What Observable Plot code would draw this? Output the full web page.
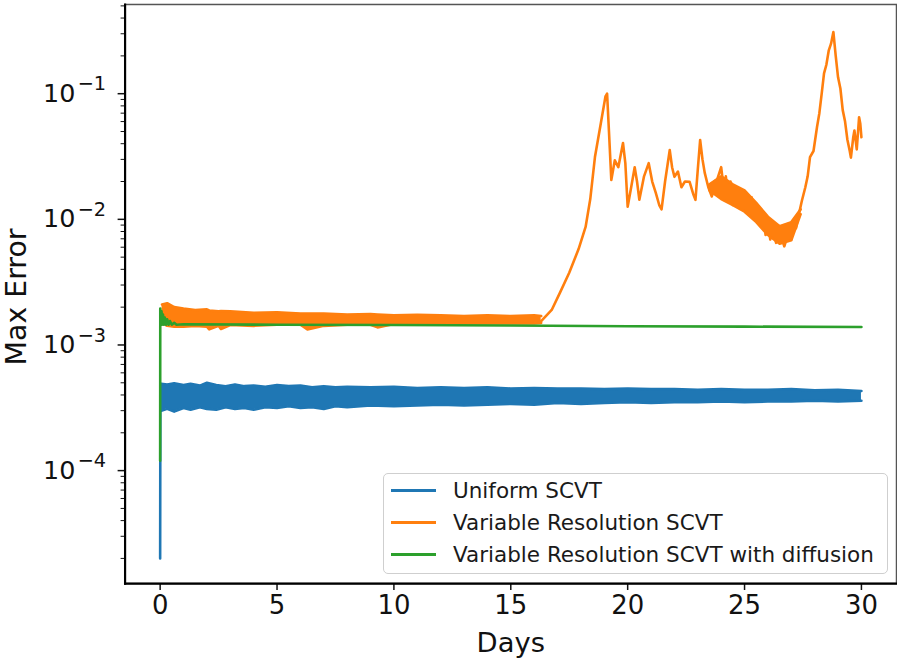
<!DOCTYPE html>
<html><head><meta charset="utf-8">
<script src="https://cdn.jsdelivr.net/npm/d3@7"></script>
<script src="https://cdn.jsdelivr.net/npm/@observablehq/plot@0.6"></script>
<style>
html,body{margin:0;padding:0;background:#fff;overflow:hidden;}
#wrap{position:relative;width:897px;height:663px;overflow:hidden;}
#legend{position:absolute;left:383px;top:473px;width:503px;height:99px;border:1px solid #cfcfcf;border-radius:5px;background:rgba(255,255,255,0.85);font-family:"DejaVu Sans",sans-serif;font-size:21.5px;color:#1a1a1a;}
.row{position:absolute;left:0;height:30px;width:100%;}
.row .sw{position:absolute;left:7px;top:13px;width:45px;height:0;border-top:3px solid;}
.row span{position:absolute;left:69px;top:0;line-height:30px;white-space:nowrap;}
</style></head><body><div id="wrap"><div id="legend"></div></div>
<script>
// ---------- data ----------
const seriesNames = ["Uniform SCVT", "Variable Resolution SCVT", "Variable Resolution SCVT with diffusion"];
const xTicks = [0, 5, 10, 15, 20, 25, 30];
const yTicks = [1e-4, 1e-3, 1e-2, 1e-1];
const minorMantissas = [2, 3, 4, 5, 6, 7, 8, 9];
const minorExponents = [-5, -4, -3, -2, -1];

// Uniform SCVT: initial jump, then noisy band (low / high envelope)
const uniformStartDays = [0, 0.01, 0.04];
const uniformStartVals = [2.0e-5, 4.6e-4, 3.2e-4];
const uniformBandDays = [0.05, 0.3, 0.6, 1, 1.3, 1.7, 2, 2.4, 2.8, 3.2, 3.6, 4, 4.5, 5, 5.5, 6, 6.5, 7, 7.5, 8, 9, 10, 11, 12, 13, 14, 15, 16, 17, 18, 19, 20, 21, 22, 23, 24, 25, 26, 27, 28, 29, 30];
const uniformHigh = [4.9e-4, 4.85e-4, 4.95e-4, 4.8e-4, 4.9e-4, 4.75e-4, 5.0e-4, 4.8e-4, 4.7e-4, 4.85e-4, 4.7e-4, 4.75e-4, 4.65e-4, 4.8e-4, 4.7e-4, 4.75e-4, 4.6e-4, 4.7e-4, 4.6e-4, 4.65e-4, 4.6e-4, 4.65e-4, 4.55e-4, 4.6e-4, 4.55e-4, 4.6e-4, 4.5e-4, 4.55e-4, 4.5e-4, 4.5e-4, 4.45e-4, 4.5e-4, 4.45e-4, 4.45e-4, 4.4e-4, 4.45e-4, 4.4e-4, 4.4e-4, 4.45e-4, 4.35e-4, 4.4e-4, 4.3e-4];
const uniformLow = [3.0e-4, 3.1e-4, 2.95e-4, 3.15e-4, 3.05e-4, 3.2e-4, 3.1e-4, 3.05e-4, 3.2e-4, 3.1e-4, 3.15e-4, 3.05e-4, 3.2e-4, 3.15e-4, 3.25e-4, 3.15e-4, 3.2e-4, 3.1e-4, 3.25e-4, 3.2e-4, 3.3e-4, 3.25e-4, 3.3e-4, 3.35e-4, 3.3e-4, 3.35e-4, 3.4e-4, 3.35e-4, 3.45e-4, 3.4e-4, 3.45e-4, 3.5e-4, 3.45e-4, 3.5e-4, 3.5e-4, 3.55e-4, 3.5e-4, 3.55e-4, 3.55e-4, 3.6e-4, 3.55e-4, 3.6e-4];

// Variable Resolution SCVT: noisy band until ~day 16, then growth
const varBandDays = [0.08, 0.3, 0.6, 1, 1.5, 2, 2.1, 2.5, 2.6, 3, 4, 5, 6, 6.3, 7, 8, 9, 9.3, 10, 11, 12, 13, 14, 15, 16, 16.3];
const varHigh = [2.1e-3, 2.15e-3, 2.0e-3, 1.95e-3, 1.9e-3, 1.92e-3, 1.88e-3, 1.85e-3, 1.86e-3, 1.85e-3, 1.8e-3, 1.82e-3, 1.78e-3, 1.78e-3, 1.78e-3, 1.75e-3, 1.76e-3, 1.75e-3, 1.72e-3, 1.74e-3, 1.72e-3, 1.7e-3, 1.72e-3, 1.7e-3, 1.72e-3, 1.7e-3];
const varLow = [1.5e-3, 1.42e-3, 1.4e-3, 1.4e-3, 1.42e-3, 1.4e-3, 1.33e-3, 1.42e-3, 1.34e-3, 1.44e-3, 1.42e-3, 1.45e-3, 1.45e-3, 1.33e-3, 1.42e-3, 1.45e-3, 1.45e-3, 1.38e-3, 1.47e-3, 1.47e-3, 1.46e-3, 1.48e-3, 1.48e-3, 1.48e-3, 1.48e-3, 1.5e-3];
const varTailDays = [16.3, 16.75, 17.1, 17.5, 17.9, 18.2, 18.4, 18.6, 18.85, 19.05, 19.12, 19.2, 19.3, 19.45, 19.6, 19.8, 19.9, 20.0, 20.15, 20.3, 20.4, 20.5, 20.7, 20.9, 21.05, 21.2, 21.35, 21.45, 21.6, 21.8, 21.9, 22.0, 22.15, 22.3, 22.45, 22.65, 22.8, 22.9, 23.0, 23.1, 23.2, 23.3, 23.45, 23.6, 23.8, 24.0, 24.1, 24.2, 24.3, 24.4, 24.5, 24.6, 24.7, 24.8, 24.9, 25.0, 25.1, 25.2, 25.3, 25.4, 25.55, 25.7, 25.8, 25.9, 26.0, 26.1, 26.2, 26.35, 26.5, 26.7, 26.85, 27.0, 27.1, 27.2, 27.3, 27.45, 27.6, 27.7, 27.8, 27.95, 28.1, 28.2, 28.3, 28.4, 28.5, 28.6, 28.7, 28.8, 28.9, 29.0, 29.1, 29.2, 29.3, 29.4, 29.5, 29.55, 29.65, 29.7, 29.8, 29.9, 29.95, 30.0];
const varTailVals = [1.55e-3, 1.9e-3, 2.6e-3, 3.76e-3, 5.8e-3, 8.7e-3, 0.0145, 0.0313, 0.058, 0.095, 0.1, 0.05, 0.0206, 0.0295, 0.026, 0.0405, 0.028, 0.0126, 0.018, 0.026, 0.02, 0.0143, 0.022, 0.028, 0.02, 0.0163, 0.013, 0.012, 0.02, 0.0356, 0.026, 0.0218, 0.024, 0.018, 0.02, 0.0199, 0.016, 0.0143, 0.025, 0.0428, 0.03, 0.0233, 0.018, 0.0152, 0.02, 0.026, 0.018, 0.022, 0.0143, 0.02, 0.013, 0.018, 0.0126, 0.017, 0.012, 0.016, 0.0143, 0.011, 0.015, 0.0105, 0.0125, 0.009, 0.011, 0.0075, 0.0095, 0.0069, 0.0085, 0.0065, 0.008, 0.0061, 0.0075, 0.0069, 0.009, 0.0085, 0.0105, 0.014, 0.018, 0.022, 0.0313, 0.035, 0.0543, 0.07, 0.1, 0.145, 0.17, 0.22, 0.25, 0.31, 0.2, 0.135, 0.11, 0.074, 0.06, 0.043, 0.035, 0.031, 0.045, 0.051, 0.036, 0.065, 0.058, 0.045];
// thick noisy stretch of the tail (low / high envelope)
const varTailBandDays = [23.5, 24, 24.5, 25, 25.5, 26, 26.5, 27, 27.4];
const varTailBandHigh = [0.019, 0.022, 0.019, 0.017, 0.0135, 0.0105, 0.0088, 0.0095, 0.012];
const varTailBandLow = [0.017, 0.0145, 0.013, 0.0115, 0.0095, 0.0075, 0.0064, 0.0068, 0.011];

// Variable Resolution SCVT with diffusion
const diffDays = [0, 0.005, 0.03, 0.06, 0.09, 0.12, 0.16, 0.2, 0.25, 0.3, 0.36, 0.42, 0.5, 0.6, 0.7, 1, 5, 10, 15, 20, 25, 30];
const diffVals = [1.2e-4, 1.95e-3, 1.5e-3, 1.85e-3, 1.45e-3, 1.75e-3, 1.45e-3, 1.65e-3, 1.45e-3, 1.6e-3, 1.45e-3, 1.55e-3, 1.45e-3, 1.5e-3, 1.45e-3, 1.46e-3, 1.45e-3, 1.44e-3, 1.43e-3, 1.41e-3, 1.4e-3, 1.39e-3];

// ---------- styling ----------
const colors = ["#1f77b4", "#ff7f0e", "#2ca02c"];
const LW = 2.6;
const FONT = "'DejaVu Sans', sans-serif";

const rows = (days, vals) => days.map((d, i) => ({day: d, v: vals[i]}));
const band = (days, lo, hi) => days.map((d, i) => ({day: d, lo: lo[i], hi: hi[i]}));
const minorTicks = [];
for (const e of minorExponents) for (const m of minorMantissas) minorTicks.push(m * Math.pow(10, e));

const uBand = band(uniformBandDays, uniformLow, uniformHigh);
const vBand = band(varBandDays, varLow, varHigh);
const tBand = band(varTailBandDays, varTailBandLow, varTailBandHigh);

const bandMarks = (data, color) => [
  Plot.areaY(data, {x: "day", y1: "lo", y2: "hi", fill: color}),
  Plot.lineY(data, {x: "day", y: "lo", stroke: color, strokeWidth: LW}),
  Plot.lineY(data, {x: "day", y: "hi", stroke: color, strokeWidth: LW})
];

const chart = Plot.plot({
  width: 900, height: 663,
  marginLeft: 125, marginRight: 1, marginTop: 4, marginBottom: 78,
  x: {domain: [-1.5, 31.5]},
  y: {type: "log", domain: [1.262e-5, 0.513]},
  style: {fontFamily: FONT, background: "transparent", color: "#111"},
  marks: [
    Plot.frame({stroke: "#555", strokeWidth: 1.5}),
    // Uniform
    Plot.lineY(rows(uniformStartDays, uniformStartVals), {x: "day", y: "v", stroke: colors[0], strokeWidth: LW}),
    ...bandMarks(uBand, colors[0]),
    // Variable resolution
    ...bandMarks(vBand, colors[1]),
    Plot.lineY(rows(varTailDays, varTailVals), {x: "day", y: "v", stroke: colors[1], strokeWidth: LW}),
    ...bandMarks(tBand, colors[1]),
    // with diffusion
    Plot.lineY(rows(diffDays, diffVals), {x: "day", y: "v", stroke: colors[2], strokeWidth: LW}),
    // axes
    Plot.axisY({ticks: minorTicks, tickSize: 4, tickFormat: () => "", label: null, strokeWidth: 1}),
    Plot.axisY({ticks: yTicks, tickSize: 7, tickPadding: 12, label: null, strokeWidth: 1.5,
      fontSize: 25.5, fontFamily: FONT,
      tickFormat: d => "10^" + Math.round(Math.log10(d))}),
    Plot.axisX({ticks: xTicks, tickSize: 7, tickPadding: 5, label: null, strokeWidth: 1.5, fontSize: 26, fontFamily: FONT}),
    Plot.frame({anchor: "left", stroke: "#000", strokeWidth: 2.2}),
    Plot.frame({anchor: "bottom", stroke: "#000", strokeWidth: 2.2}),
    Plot.text(["Days"], {frameAnchor: "bottom", lineAnchor: "middle", dy: 60, text: d => d, fontSize: 27.5, fontFamily: FONT, fill: "#111"}),
    Plot.text(["Max Error"], {frameAnchor: "left", textAnchor: "middle", lineAnchor: "middle", dx: -109, dy: 3, rotate: -90, text: d => d, fontSize: 28.5, fontFamily: FONT, fill: "#111"})
  ]
});

// superscript exponents on y tick labels
d3.select(chart).selectAll("text").each(function () {
  const t = this.textContent;
  if (/^10\^-?\d+$/.test(t)) {
    const e = t.slice(3).replace("-", "\u2212");
    this.textContent = "10";
    d3.select(this).append("tspan").attr("dx", "0.12em").attr("dy", "-0.6em").attr("font-size", "0.76em").text(e);
  }
});

const wrap = document.getElementById("wrap");
wrap.insertBefore(chart, wrap.firstChild);

const legend = document.getElementById("legend");
seriesNames.forEach((name, i) => {
  const r = document.createElement("div");
  r.className = "row";
  r.style.top = (2 + i * 32) + "px";
  const sw = document.createElement("div");
  sw.className = "sw";
  sw.style.borderTopColor = colors[i];
  const sp = document.createElement("span");
  sp.textContent = name;
  r.appendChild(sw); r.appendChild(sp);
  legend.appendChild(r);
});
</script></body></html>
